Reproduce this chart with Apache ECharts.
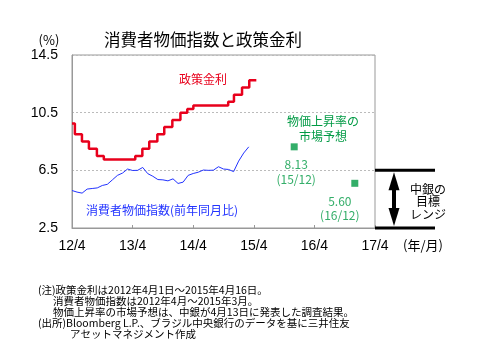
<!DOCTYPE html>
<html lang="ja">
<head>
    <meta charset="UTF-8">
    <title>消費者物価指数と政策金利</title>
    <script src="https://cdn.jsdelivr.net/npm/echarts@6.0.0/dist/echarts.min.js"></script>
    <style>
        *{
            margin: 0;
            padding: 0;
        }
        .container{
            width: 488px;
            height: 354px;
        }
    </style>
</head>
<body>
<div class="container"></div>
<script>
    // 横軸は 2012年4月 からの経過月数
    let xTickLabels = ['12/4', '13/4', '14/4', '15/4', '16/4', '17/4'];

    // 政策金利（変更日、月数）
    let policyMonths = [0, 0.57, 1.97, 3.35, 4.93, 6.3, 12.53, 13.93, 15.3, 16.9, 18.27, 19.87, 21.47, 22.83, 24.03, 30.93, 32.07, 33.67, 35.1, 36.5];
    let policyRates = [9.75, 9.0, 8.5, 8.0, 7.5, 7.25, 7.5, 8.0, 8.5, 9.0, 9.5, 10.0, 10.5, 10.75, 11.0, 11.25, 11.75, 12.25, 12.75, 12.75];

    // 消費者物価指数（前年同月比）2012/4 ～ 2015/3
    let cpiValues = [5.10, 4.99, 4.92, 5.20, 5.24, 5.28, 5.45, 5.53, 5.84, 6.15, 6.31, 6.59,
        6.49, 6.50, 6.70, 6.27, 6.09, 5.86, 5.84, 5.77, 5.91, 5.59, 5.68, 6.15,
        6.28, 6.37, 6.52, 6.50, 6.51, 6.75, 6.59, 6.56, 6.41, 7.14, 7.70, 8.13];

    // 物価上昇率の市場予想
    let forecastMonths = [44, 56];
    let forecastValues = [8.13, 5.60];
    let forecastLabels = ['15/12', '16/12'];

    // 中銀の目標レンジ
    let targetRange = [2.5, 6.5];

    let main = document.querySelectorAll(".container");
    let mycharts = echarts.init(main[0]);

    const jp = '"Noto Sans CJK JP", sans-serif';
    const red = '#e8001c';
    const blue = '#2233ff';
    const green = '#009a44';

    let notes = [
        ['(注)政策金利は2012年4月1日～2015年4月16日。', 38, 290],
        ['消費者物価指数は2012年4月～2015年3月。', 53, 301],
        ['物価上昇率の市場予想は、中銀が4月13日に発表した調査結果。', 53, 312],
        ['(出所)Bloomberg L.P.、ブラジル中央銀行のデータを基に三井住友', 38, 323.5],
        ['アセットマネジメント作成', 70, 334.5]
    ];

    let graphic = [
        {type: 'text', left: 104, top: 31, style: {text: '消費者物価指数と政策金利', font: '16.5px ' + jp, fill: '#000'}},
        {type: 'text', x: 49, y: 40, style: {text: '(%)', font: '13px ' + jp, fill: '#000', align: 'center', verticalAlign: 'middle'}},
        {type: 'text', x: 423, y: 245, style: {text: '(年/月)', font: '13px ' + jp, fill: '#000', align: 'center', verticalAlign: 'middle'}},
        {type: 'text', x: 203, y: 79, style: {text: '政策金利', font: '12px ' + jp, fill: red, align: 'center', verticalAlign: 'middle'}},
        {type: 'text', x: 162, y: 210, style: {text: '消費者物価指数(前年同月比)', font: '12px ' + jp, fill: blue, align: 'center', verticalAlign: 'middle'}},
        {type: 'text', x: 323, y: 129, style: {text: '物価上昇率の\n市場予想', font: '12px ' + jp, fill: green, align: 'center', verticalAlign: 'middle', lineHeight: 15}}
    ];
    notes.forEach(n => {
        graphic.push({type: 'text', x: n[1], y: n[2], style: {text: n[0], font: '10.5px ' + jp, fill: '#000', verticalAlign: 'middle'}});
    });

    let Option = {
        animation: false,
        backgroundColor: '#fff',
        grid: {
            left: 72,
            right: 113,
            top: 55,
            bottom: 126,
            show: true,
            borderColor: '#999',
            borderWidth: 1
        },
        xAxis: {
            type: 'value',
            min: 0,
            max: 60,
            interval: 12,
            axisLine: {lineStyle: {color: '#999'}},
            axisTick: {inside: true, length: 3, lineStyle: {color: '#999'}},
            axisLabel: {
                color: '#000',
                fontSize: 14,
                fontFamily: 'Liberation Sans',
                margin: 11,
                formatter: v => xTickLabels[Math.round(v / 12)]
            },
            splitLine: {show: false}
        },
        yAxis: {
            type: 'value',
            min: 2.5,
            max: 14.5,
            interval: 4,
            axisLine: {show: true, lineStyle: {color: '#999'}},
            axisTick: {show: false},
            axisLabel: {
                color: '#000',
                fontSize: 14,
                fontFamily: 'Liberation Sans',
                margin: 14,
                formatter: v => v.toFixed(1)
            },
            splitLine: {lineStyle: {color: '#bbb', type: [2, 2]}}
        },
        graphic,
        series: [
            {
                name: '政策金利',
                type: 'line',
                step: 'end',
                symbol: 'none',
                lineStyle: {color: red, width: 2.5},
                data: policyMonths.map((m, i) => [m, policyRates[i]])
            },
            {
                name: '消費者物価指数',
                type: 'line',
                symbol: 'none',
                lineStyle: {color: blue, width: 1},
                data: cpiValues.map((v, i) => [i, v])
            },
            {
                name: '市場予想',
                type: 'scatter',
                symbol: 'rect',
                symbolSize: 7,
                itemStyle: {color: green},
                label: {
                    show: true,
                    position: 'bottom',
                    distance: 7,
                    color: green,
                    fontSize: 12,
                    lineHeight: 14.5,
                    fontFamily: jp,
                    formatter: p => p.value[1].toFixed(2) + '\n(' + forecastLabels[p.dataIndex] + ')'
                },
                data: forecastMonths.map((m, i) => ({
                    value: [m, forecastValues[i]],
                    label: {offset: i === 1 ? [-15, 0] : [2, 0]}
                }))
            },
            {
                name: '目標レンジ',
                type: 'custom',
                clip: false,
                silent: true,
                data: [[60, targetRange[0], targetRange[1]]],
                renderItem: function (params, api) {
                    let top = api.coord([api.value(0), api.value(2)]);
                    let bot = api.coord([api.value(0), api.value(1)]);
                    let x0 = top[0];
                    let ax = x0 + 19;
                    return {
                        type: 'group',
                        children: [
                            {type: 'line', shape: {x1: x0, y1: top[1], x2: x0 + 60, y2: top[1]}, style: {stroke: '#000', lineWidth: 3}},
                            {type: 'line', shape: {x1: x0, y1: bot[1], x2: x0 + 60, y2: bot[1]}, style: {stroke: '#000', lineWidth: 3}},
                            {type: 'line', shape: {x1: ax, y1: top[1] + 15, x2: ax, y2: bot[1] - 15}, style: {stroke: '#000', lineWidth: 4}},
                            {type: 'polygon', shape: {points: [[ax, top[1] + 2], [ax - 5.5, top[1] + 20], [ax + 5.5, top[1] + 20]]}, style: {fill: '#000'}},
                            {type: 'polygon', shape: {points: [[ax, bot[1] - 2], [ax - 5.5, bot[1] - 20], [ax + 5.5, bot[1] - 20]]}, style: {fill: '#000'}},
                            {type: 'text', x: x0 + 53, y: (top[1] + bot[1]) / 2 + 2.5, style: {text: '中銀の\n目標\nレンジ', font: '12px ' + jp, fill: '#000', align: 'center', verticalAlign: 'middle', lineHeight: 12.5}}
                        ]
                    };
                }
            }
        ]
    };

    mycharts.setOption(Option);
</script>
</body>
</html>
